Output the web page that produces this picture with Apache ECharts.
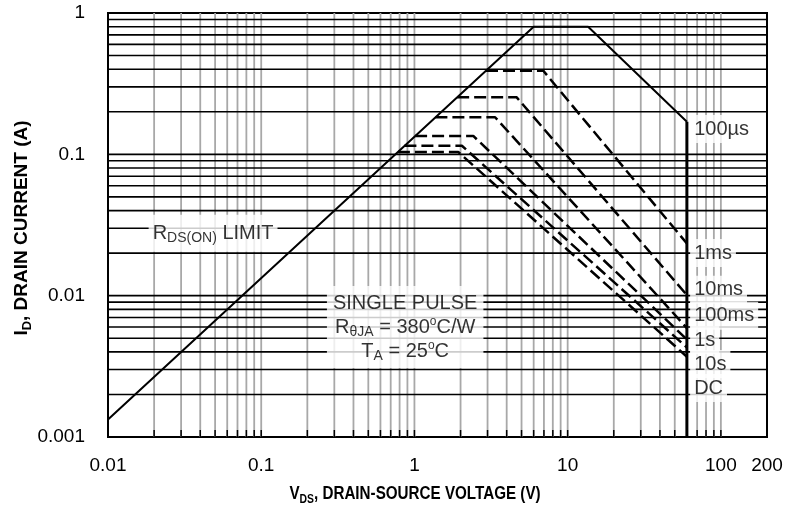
<!DOCTYPE html>
<html><head><meta charset="utf-8">
<script src="https://cdn.jsdelivr.net/npm/echarts@6/dist/echarts.min.js"></script>
<style>html,body{margin:0;padding:0;background:#fff}#c{width:796px;height:512px}</style>
</head><body><div id="c"></div>
<script>
// ---- axis ranges and tick labels ----
const xRange = [0.01, 200];
const yRange = [0.001, 1];
const xTickLabels = [0.01, 0.1, 1, 10, 100, 200];
const yTickLabels = [0.001, 0.01, 0.1, 1];
// ---- grid line positions ----
const xGridValues = [0.02,0.03,0.04,0.05,0.06,0.07,0.08,0.09,
  0.1,0.2,0.3,0.4,0.5,0.6,0.7,0.8,0.9,
  1,2,3,4,5,6,7,8,9,
  10,20,30,40,50,60,70,80,90,100];
const yGridValues = [0.002,0.003,0.004,0.005,0.006,0.007,0.008,0.009,
  0.01,0.02,0.03,0.04,0.05,0.06,0.07,0.08,0.09,
  0.1,0.2,0.3,0.4,0.5,0.6,0.7,0.8,0.9];
// ---- SOA curves [V_DS, I_D] ----
const limit100us = [[0.01,0.00133],[6,0.8],[13.6,0.8],[60,0.17]];
const bvdssEdge = [[60,0.17],[60,0.001]];
const curve1ms   = [[2.93,0.39],[6.94,0.39],[60,0.0234]];
const curve10ms  = [[1.90,0.253],[4.65,0.253],[60,0.0101]];
const curve100ms = [[1.37,0.183],[3.36,0.183],[60,0.0059]];
const curve1s    = [[1.01,0.135],[2.42,0.135],[60,0.0049]];
const curve10s   = [[0.86,0.115],[2.04,0.115],[60,0.0043]];
const curveDC    = [[0.78,0.104],[1.93,0.104],[60,0.0037]];
// ---- annotation anchors ----
const pulseLabelNames = ['100\u00b5s','1ms','10ms','100ms','1s','10s','DC'];
const pulseLabelY = [0.151, 0.0200, 0.0110, 0.0072, 0.00485, 0.00328, 0.00222];
const pulseLabelX = 63;
const rdsLabelPos = [0.0485, 0.0277];
const condLabelPos = [0.87, 0.006];

const FONT = 'Liberation Sans, Arial, sans-serif';

function fmtTick(list){
  return v => {
    const t = list.find(t => Math.abs(Math.log10(t) - Math.log10(v)) < 1e-6);
    return t === undefined ? '' : String(t);
  };
}

const chart = echarts.init(document.getElementById('c'), null, {renderer:'canvas'});

const dashStyle = {color:'#000', width:2.5, type:[12,5]};
function dashed(name, data){
  return {name, type:'line', data, symbol:'none', z:3, silent:true,
    lineStyle:dashStyle, clip:true};
}

const notes = [];
pulseLabelNames.forEach((n,i)=>{
  notes.push({value:[pulseLabelX, pulseLabelY[i]], label:{formatter:n}});
});
notes.push({value:rdsLabelPos, label:{
  formatter:'{a|R}{s|DS(ON)}{a| LIMIT}', position:'inside', align:'center', padding:[6,4]}});
notes.push({value:condLabelPos, label:{
  formatter:'{a|SINGLE PULSE}\n{a|R}{s|\u03b8JA}{a| = 380}{p|o}{a|C/W}\n{a|T}{s|A}{a| = 25}{p|o}{a|C}',
  position:'inside', align:'center', padding:[5,6], lineHeight:24}});

const option = {
  animation:false,
  backgroundColor:'#fff',
  grid:{left:108, right:29, top:13, bottom:75, show:true, borderColor:'#000', borderWidth:2},
  xAxis:{type:'log', logBase:10, min:xRange[0], max:xRange[1],
    axisLine:{lineStyle:{color:'#000', width:2}}, axisTick:{show:false},
    splitLine:{show:false}, minorTick:{show:false}, minorSplitLine:{show:false},
    axisLabel:{color:'#000', fontSize:19, fontFamily:FONT, margin:19, formatter:fmtTick(xTickLabels)}},
  yAxis:{type:'log', logBase:10, min:yRange[0], max:yRange[1],
    axisLine:{lineStyle:{color:'#000', width:2}}, axisTick:{show:false},
    splitLine:{show:false}, minorTick:{show:false}, minorSplitLine:{show:false},
    axisLabel:{color:'#000', fontSize:19, fontFamily:FONT, margin:23, formatter:fmtTick(yTickLabels)}},
  graphic:[
    {type:'text', x:415, y:494, scaleX:0.8, z:10, style:{
      text:'V{s|DS}{a|, DRAIN-SOURCE VOLTAGE (V)}', fill:'#000', align:'center', verticalAlign:'middle',
      fontSize:19, fontWeight:'bold', fontFamily:FONT,
      rich:{a:{fontSize:19, fontWeight:'bold', fontFamily:FONT},
            s:{fontSize:13, fontWeight:'bold', fontFamily:FONT, padding:[11,0,0,0]}}}},
    {type:'text', x:22, y:228, rotation:Math.PI/2, z:10, style:{
      text:'I{s|D}{a|, DRAIN CURRENT (A)}', fill:'#000', align:'center', verticalAlign:'middle',
      fontSize:19, fontWeight:'bold', fontFamily:FONT,
      rich:{a:{fontSize:19, fontWeight:'bold', fontFamily:FONT},
            s:{fontSize:13, fontWeight:'bold', fontFamily:FONT, padding:[11,0,0,0]}}}}
  ],
  series:[
    {name:'vgrid', type:'custom', z:1, silent:true, clip:false,
      data:xGridValues.map(v=>[v, yRange[0]]),
      renderItem:(p, api)=>{
        const a = api.coord([api.value(0), yRange[0]]);
        const b = api.coord([api.value(0), yRange[1]]);
        return {type:'line', shape:{x1:a[0], y1:a[1], x2:b[0], y2:b[1]},
          style:{stroke:'#a8a8a8', lineWidth:1.8}};
      }},
    {name:'hgrid', type:'custom', z:2, silent:true, clip:false,
      data:yGridValues.map(v=>[xRange[0], v]),
      renderItem:(p, api)=>{
        const a = api.coord([xRange[0], api.value(1)]);
        const b = api.coord([xRange[1], api.value(1)]);
        return {type:'line', shape:{x1:a[0], y1:a[1], x2:b[0], y2:b[1]},
          style:{stroke:'#000', lineWidth:1.6}};
      }},
    {name:'xticks', type:'custom', z:2, silent:true, clip:false,
      data:xGridValues.map(v=>[v, yRange[0]]),
      renderItem:(p, api)=>{
        const a = api.coord([api.value(0), yRange[0]]);
        return {type:'line', shape:{x1:a[0], y1:a[1], x2:a[0], y2:a[1]-7},
          style:{stroke:'#000', lineWidth:1.5}};
      }},
    {name:'100us', type:'line', data:limit100us, symbol:'none', z:3, silent:true,
      lineStyle:{color:'#000', width:2}},
    {name:'BVDSS', type:'line', data:bvdssEdge, symbol:'none', z:3, silent:true,
      lineStyle:{color:'#000', width:3}},
    dashed('1ms', curve1ms),
    dashed('10ms', curve10ms),
    dashed('100ms', curve100ms),
    dashed('1s', curve1s),
    dashed('10s', curve10s),
    dashed('DC', curveDC),
    {name:'notes', type:'scatter', symbolSize:0, z:6, silent:true, data:notes,
      label:{show:true, position:'right', distance:0, color:'#000', fontSize:20, fontFamily:FONT,
        backgroundColor:'#fff', padding:[4,4], align:'left', verticalAlign:'middle',
        rich:{a:{fontSize:20, fontFamily:FONT, color:'#000'},
              s:{fontSize:14, fontFamily:FONT, color:'#000', padding:[11,0,0,0]},
              p:{fontSize:12, fontFamily:FONT, color:'#000', padding:[0,0,10,0]}}}}
  ]
};
chart.setOption(option);
</script></body></html>
